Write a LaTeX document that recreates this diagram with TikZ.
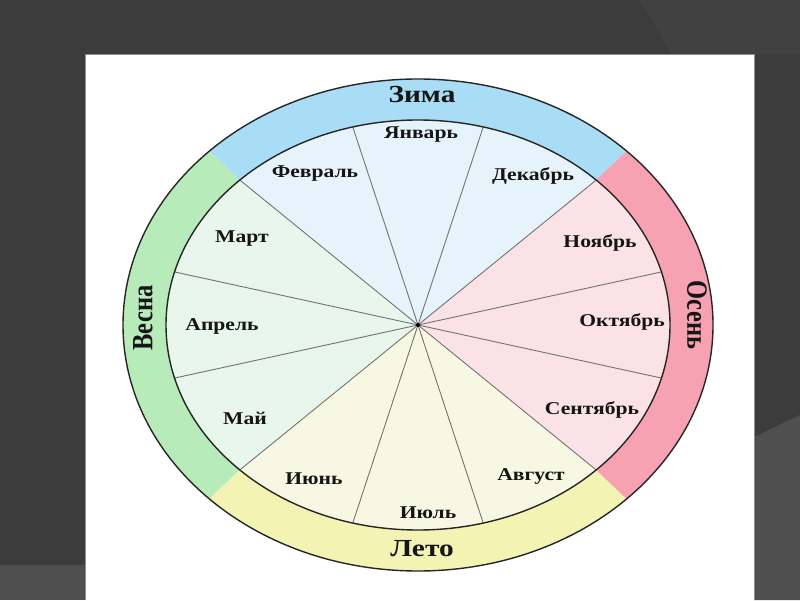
\documentclass[tikz,border=0pt]{standalone}
\usepackage{fontspec}
\setmainfont{Liberation Serif}
\usetikzlibrary{calc}
\definecolor{bgdark}{HTML}{3C3C3C}
\definecolor{bgmid}{HTML}{414141}
\definecolor{bglight}{HTML}{4F4F4F}
\definecolor{winterband}{HTML}{A9DCF5}
\definecolor{springband}{HTML}{B7EBB9}
\definecolor{summerband}{HTML}{F3F3B4}
\definecolor{autumnband}{HTML}{F6A2B2}
\definecolor{winterfill}{HTML}{E7F3FA}
\definecolor{springfill}{HTML}{E9F6EC}
\definecolor{summerfill}{HTML}{F7F8E4}
\definecolor{autumnfill}{HTML}{FBE2E7}
\definecolor{inktext}{HTML}{151515}
\newcommand{\hstretch}[1]{\scalebox{1.2}[1]{#1}}
\newcommand{\vstretch}[1]{\scalebox{1}[1.2]{#1}}
\tikzset{
  monthlabel/.style={font=\fontsize{18}{18}\selectfont\bfseries, text=inktext, inner sep=0pt},
  seasonlabel/.style={font=\fontsize{24.5}{24.5}\selectfont\bfseries, text=inktext, inner sep=0pt},
  spoke/.style={draw=black!55, line width=0.9pt},
  rim/.style={draw=black!85, line width=1.4pt},
}
\begin{document}
\begin{tikzpicture}[x=1pt,y=1pt]
\useasboundingbox (0,0) rectangle (800,600);
% slide background
\fill[bgdark] (0,0) rectangle (800,600);
\fill[bgmid] (640,600) -- (672,546) -- (800,546) -- (800,600) -- cycle;
\fill[bglight] (754,163) -- (800,185) -- (800,0) -- (754,0) -- cycle;
\fill[bglight] (0,0) rectangle (85,35);
% white sheet
\fill[white] (85,0) rectangle (754,546);
\draw[black!45, line width=0.8pt] (85,0) -- (85,546) -- (754,546) -- (754,0);

\coordinate (c) at (418,275);
% season bands
\fill[winterband] ($(c)+(45:295pt and 246pt)$) arc[start angle=45, end angle=135, x radius=295pt, y radius=246pt]
  -- ($(c)+(135:252pt and 205pt)$) arc[start angle=135, end angle=45, x radius=252pt, y radius=205pt] -- cycle;
\fill[springband] ($(c)+(135:295pt and 246pt)$) arc[start angle=135, end angle=225, x radius=295pt, y radius=246pt]
  -- ($(c)+(225:252pt and 205pt)$) arc[start angle=225, end angle=135, x radius=252pt, y radius=205pt] -- cycle;
\fill[summerband] ($(c)+(225:295pt and 246pt)$) arc[start angle=225, end angle=315, x radius=295pt, y radius=246pt]
  -- ($(c)+(315:252pt and 205pt)$) arc[start angle=315, end angle=225, x radius=252pt, y radius=205pt] -- cycle;
\fill[autumnband] ($(c)+(-45:295pt and 246pt)$) arc[start angle=-45, end angle=45, x radius=295pt, y radius=246pt]
  -- ($(c)+(45:252pt and 205pt)$) arc[start angle=45, end angle=-45, x radius=252pt, y radius=205pt] -- cycle;
% season sectors
\fill[winterfill] (c) -- ($(c)+(45:252pt and 205pt)$) arc[start angle=45, end angle=135, x radius=252pt, y radius=205pt] -- cycle;
\fill[springfill] (c) -- ($(c)+(135:252pt and 205pt)$) arc[start angle=135, end angle=225, x radius=252pt, y radius=205pt] -- cycle;
\fill[summerfill] (c) -- ($(c)+(225:252pt and 205pt)$) arc[start angle=225, end angle=315, x radius=252pt, y radius=205pt] -- cycle;
\fill[autumnfill] (c) -- ($(c)+(-45:252pt and 205pt)$) arc[start angle=-45, end angle=45, x radius=252pt, y radius=205pt] -- cycle;
% month spokes
\foreach \i in {0,...,11} {
  \coordinate (m\i) at ($(c)+({15+30*\i}:252pt and 205pt)$);
  \draw[spoke] (c) -- (m\i);
}
% rims
\draw[rim] (c) ellipse[x radius=295pt, y radius=246pt];
\draw[rim] (c) ellipse[x radius=252pt, y radius=205pt];
\node[fill=black, circle, inner sep=0pt, minimum size=4pt] (hub) at (c) {};
% months
\node[monthlabel] (jan) at (421,465) {\hstretch{Январь}};
\node[monthlabel] (feb) at (315,426) {\hstretch{Февраль}};
\node[monthlabel] (dec) at (533,424) {\hstretch{Декабрь}};
\node[monthlabel] (mar) at (242,361) {\hstretch{Март}};
\node[monthlabel] (nov) at (600,357) {\hstretch{Ноябрь}};
\node[monthlabel] (apr) at (222,274) {\hstretch{Апрель}};
\node[monthlabel] (oct) at (622,278) {\hstretch{Октябрь}};
\node[monthlabel] (may) at (245,182) {\hstretch{Май}};
\node[monthlabel] (sep) at (592,190) {\hstretch{Сентябрь}};
\node[monthlabel] (jun) at (314,121) {\hstretch{Июнь}};
\node[monthlabel] (jul) at (428,87) {\hstretch{Июль}};
\node[monthlabel] (aug) at (531,123) {\hstretch{Август}};
% seasons
\node[seasonlabel] (winter) at (422,505) {\hstretch{Зима}};
\node[seasonlabel] (summer) at (422,51) {\hstretch{Лето}};
\node[seasonlabel, rotate=90] (spring) at (143,282) {\vstretch{Весна}};
\node[seasonlabel, rotate=-90] (autumn) at (697,285) {\vstretch{Осень}};
\end{tikzpicture}
\end{document}
